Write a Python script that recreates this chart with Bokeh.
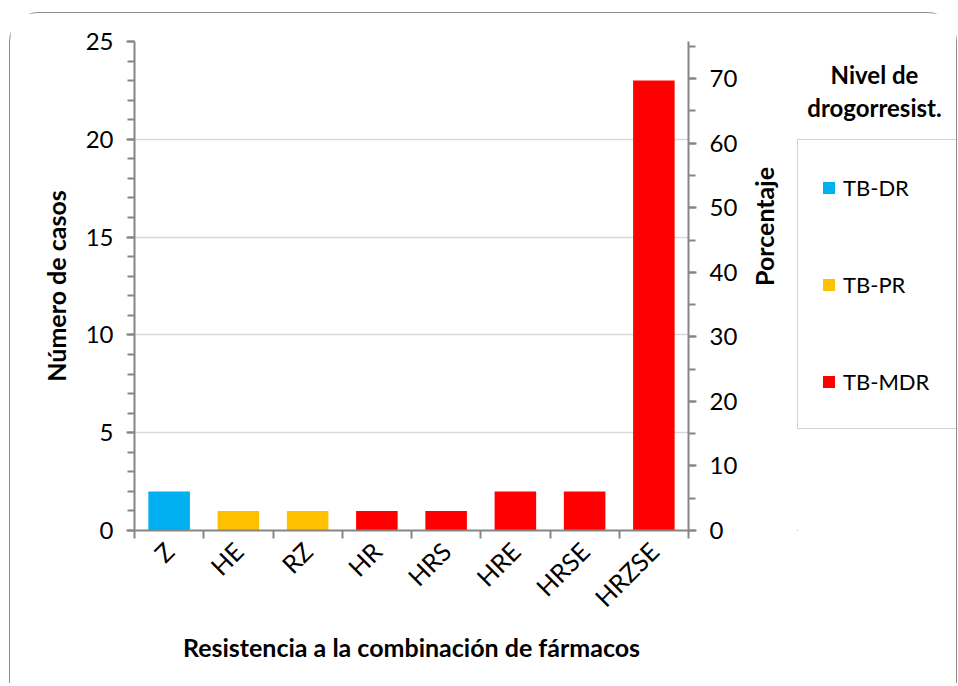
import math
from bokeh.plotting import figure
from bokeh.layouts import row, column
from bokeh.models import (ColumnDataSource, Range1d, LinearAxis, FixedTicker,
                          SingleIntervalTicker, Label, Grid, Legend, LegendItem)
from bokeh.transform import factor_cmap
from bokeh.embed import file_html
from bokeh.resources import INLINE

# ---- data ----
categories = ["Z", "HE", "RZ", "HR", "HRS", "HRE", "HRSE", "HRZSE"]
cases = [2, 1, 1, 1, 1, 2, 2, 23]
levels = ["TB-DR", "TB-PR", "TB-PR", "TB-MDR", "TB-MDR", "TB-MDR", "TB-MDR", "TB-MDR"]
level_names = ["TB-DR", "TB-PR", "TB-MDR"]
level_colors = ["#00B0F0", "#FFC000", "#FF0000"]
legend_title = ["Nivel de", "drogorresist."]
cases_axis_max = 25

total = sum(cases)
pct_axis_max = cases_axis_max / total * 100

FONT = "Lato"
AXIS_COLOR = "#868686"
H = 670

n = len(categories)
centers = [i + 0.5 for i in range(n)]
src = ColumnDataSource(dict(x=centers, cat=categories, cases=cases, level=levels))
bar_fill = factor_cmap("level", palette=level_colors, factors=level_names)

p = figure(width=787, height=H, x_range=Range1d(0, n),
           y_range=Range1d(0, cases_axis_max),
           output_backend="svg", toolbar_location=None,
           x_axis_location=None, y_axis_location=None,
           min_border_left=124, min_border_right=104,
           min_border_top=28, min_border_bottom=153)
p.outline_line_color = None
p.xgrid.visible = False
p.ygrid.visible = False

p.vbar(x="x", top="cases", width=0.6, source=src, fill_color=bar_fill, line_color=None)

ly = LinearAxis(ticker=SingleIntervalTicker(interval=5, num_minor_ticks=5),
                axis_label="Número de casos")
p.extra_y_ranges = {"pct": Range1d(0, pct_axis_max)}
ry = LinearAxis(y_range_name="pct", ticker=SingleIntervalTicker(interval=10, num_minor_ticks=2),
                axis_label="Porcentaje")
xa = LinearAxis(ticker=FixedTicker(ticks=centers, minor_ticks=list(range(n + 1))),
                major_label_overrides={c: lab for c, lab in zip(centers, categories)},
                axis_label="Resistencia a la combinación de fármacos")
xa.major_label_orientation = math.pi / 4
xa.major_tick_out = 0
xa.major_tick_in = 0
xa.minor_tick_out = 8
xa.minor_tick_in = 0

for ax in (ly, ry, xa):
    ax.axis_line_color = AXIS_COLOR
    ax.axis_line_width = 2
    ax.major_tick_line_color = AXIS_COLOR
    ax.minor_tick_line_color = AXIS_COLOR
    ax.major_tick_line_width = 2
    ax.minor_tick_line_width = 2
    ax.major_label_text_font = FONT
    ax.major_label_text_font_size = "24px"
    ax.major_label_text_color = "black"
    ax.axis_label_text_font = FONT
    ax.axis_label_text_font_style = "bold"
    ax.axis_label_text_font_size = "25px"
    ax.axis_label_text_color = "black"

for ax in (ly, ry):
    ax.major_tick_out = 8
    ax.major_tick_in = 0
    ax.minor_tick_out = 7
    ax.minor_tick_in = 0
    ax.major_label_standoff = 13
ly.axis_label_standoff = 12
ry.axis_label_standoff = 24
try:
    ry.axis_label_orientation = math.pi / 2
except Exception:
    pass

xa.major_label_text_font_size = "25px"
xa.major_label_standoff = 8
xa.axis_label_standoff = 6

p.add_layout(ly, "left")
p.add_layout(ry, "right")
p.add_layout(xa, "below")
p.add_layout(Grid(dimension=1, ticker=ly.ticker, grid_line_color="#d9d9d9", grid_line_width=1.5))

# ---- legend panel (frame aligned with the chart frame) ----
QW = 159
q = figure(width=QW, height=H, x_range=Range1d(1000, 1001), y_range=Range1d(1000, 1001),
           output_backend="svg", toolbar_location=None,
           x_axis_location=None, y_axis_location=None, min_border=0)
q.outline_line_color = None
q.xgrid.visible = False
q.ygrid.visible = False

# same bars, kept out of this panel's view, only to feed the legend swatches
qr = q.vbar(x="x", top="cases", width=0.6, source=src, fill_color=bar_fill, line_color=None)
items = [LegendItem(label=name, renderers=[qr], index=levels.index(name)) for name in level_names]

leg = Legend(items=items, location=(0, 101))
leg.border_line_color = "#a6a6a6"
leg.border_line_width = 1.5
leg.background_fill_alpha = 0
leg.padding = 23
leg.margin = 0
leg.glyph_width = 15
leg.glyph_height = 15
leg.label_height = 48
leg.label_width = 90
leg.spacing = 49
leg.label_standoff = 7
leg.label_text_font = FONT
leg.label_text_font_size = "22px"
leg.label_text_color = "black"
q.add_layout(leg)

for txt, yy in zip(legend_title, (456, 423)):
    q.add_layout(Label(x=77, y=yy, x_units="screen", y_units="screen", text=txt,
                       text_align="center", text_baseline="middle", text_color="black",
                       text_font=FONT, text_font_style="bold", text_font_size="24px"))

layout = column(row(p, q, spacing=0),
                styles={"border-left": "1.5px solid #8c8c8c",
                        "border-top": "1.5px solid #8c8c8c",
                        "border-right": "1.5px solid #8c8c8c",
                        "border-radius": "30px 30px 0 0",
                        "margin-left": "9px", "margin-top": "12px"})

open("out.html", "w").write(file_html(layout, INLINE))
